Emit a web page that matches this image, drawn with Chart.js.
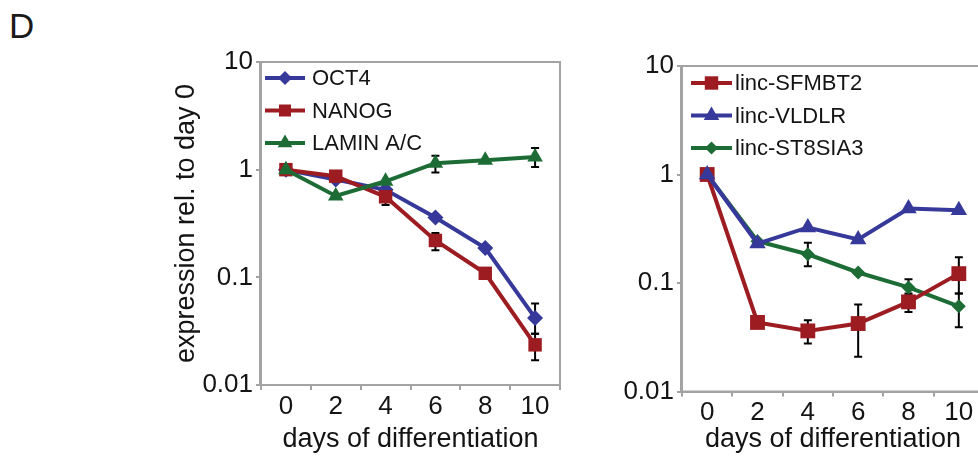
<!DOCTYPE html>
<html>
<head>
<meta charset="utf-8">
<script src="https://cdn.jsdelivr.net/npm/chart.js@4.4.1/dist/chart.umd.min.js"></script>
<style>
  html, body { margin: 0; padding: 0; background: #fff; overflow: hidden; width: 978px; height: 456px; }
  .panel { position: absolute; top: 0; }
  #letter { position: absolute; left: 9px; top: 8px; font: 35px/35px "Liberation Sans", Arial, sans-serif; color: #1a1a1a; }
</style>
</head>
<body>
<div id="letter">D</div>
<div class="panel" style="left:160px"><canvas id="left" width="420" height="456"></canvas></div>
<div class="panel" style="left:580px"><canvas id="right" width="420" height="456"></canvas></div>
<script>
// x categories and y ticks
const days = ['0', '2', '4', '6', '8', '10'];
const yTicks = [0.01, 0.1, 1, 10];

// left panel: pluripotency markers
const oct4 = [1.0, 0.81, 0.65, 0.36, 0.187, 0.042];
const nanog = [1.0, 0.87, 0.56, 0.22, 0.109, 0.0236];
const lamin = [1.0, 0.57, 0.78, 1.15, 1.22, 1.31];
const oct4Err = [null, null, null, null, null, [0.03, 0.057]];
const nanogErr = [null, null, [0.47, 0.63], [0.178, 0.258], null, [0.017, 0.03]];
const laminErr = [null, null, null, [0.94, 1.35], null, [1.06, 1.59]];

// right panel: lincRNAs
const sfmbt2 = [1.0, 0.0433, 0.0362, 0.0423, 0.067, 0.122];
const vldlr = [1.0, 0.231, 0.325, 0.252, 0.486, 0.469];
const st8sia3 = [1.0, 0.243, 0.184, 0.125, 0.091, 0.061];
const sfmbt2Err = [null, null, [0.0277, 0.0454], [0.0209, 0.0635], [0.054, 0.08], [0.08, 0.173]];
const st8sia3Err = [null, null, [0.143, 0.235], null, [0.077, 0.108], [0.039, 0.08]];

const BLUE = '#36399a';
const RED = '#9c1c21';
const GREEN = '#1d6c36';
const GRAY = '#a3a3a3';
const INK = '#141414';
const FONT = '"Liberation Sans", Arial, sans-serif';

function marker(ctx, style, x, y, r) {
  ctx.beginPath();
  if (style === 'rect') {
    const s = r * Math.SQRT1_2;
    ctx.rect(x - s, y - s, 2 * s, 2 * s);
  } else if (style === 'rectRot') {
    ctx.moveTo(x, y - r);
    ctx.lineTo(x + r, y);
    ctx.lineTo(x, y + r);
    ctx.lineTo(x - r, y);
    ctx.closePath();
  } else {
    const h = r * 1.5;
    const w = r * Math.sqrt(3) / 2;
    ctx.moveTo(x, y - r);
    ctx.lineTo(x + w, y - r + h);
    ctx.lineTo(x - w, y - r + h);
    ctx.closePath();
  }
  ctx.fill();
}

const errorBars = {
  id: 'errorBars',
  beforeDatasetsDraw(chart) {
    const ctx = chart.ctx;
    const yScale = chart.scales.y;
    ctx.save();
    ctx.strokeStyle = '#000';
    ctx.lineWidth = 2;
    chart.data.datasets.forEach((ds, di) => {
      if (!ds.errors) return;
      const meta = chart.getDatasetMeta(di);
      ds.errors.forEach((e, i) => {
        if (!e) return;
        const x = meta.data[i].x;
        const y1 = yScale.getPixelForValue(e[0]);
        const y2 = yScale.getPixelForValue(e[1]);
        ctx.beginPath();
        ctx.moveTo(x, y1); ctx.lineTo(x, y2);
        ctx.moveTo(x - 4, y1); ctx.lineTo(x + 4, y1);
        ctx.moveTo(x - 4, y2); ctx.lineTo(x + 4, y2);
        ctx.stroke();
      });
    });
    ctx.restore();
  }
};

const frameAndLegend = {
  id: 'frameAndLegend',
  afterDraw(chart, args, opts) {
    const ctx = chart.ctx;
    const a = chart.chartArea;
    ctx.save();
    ctx.strokeStyle = GRAY;
    ctx.lineWidth = 2;
    ctx.strokeRect(a.left - 1, a.top, a.right - a.left + 1, a.bottom - a.top);

    ctx.font = '22px ' + FONT;
    ctx.textBaseline = 'middle';
    chart.data.datasets.forEach((ds, i) => {
      const y = opts.y + i * opts.dy;
      ctx.strokeStyle = ds.borderColor;
      ctx.lineWidth = 4;
      ctx.beginPath();
      ctx.moveTo(opts.x, y);
      ctx.lineTo(opts.x + opts.len, y);
      ctx.stroke();
      ctx.fillStyle = ds.borderColor;
      marker(ctx, ds.pointStyle, opts.x + opts.len / 2, y, ds.legendRadius);
      ctx.fillStyle = INK;
      ctx.fillText(ds.label, opts.textX, y + 1);
    });
    ctx.restore();
  }
};

function makeSet(label, data, errors, color, style, radius, legendRadius, order) {
  return {
    label, data, errors, order,
    borderColor: color,
    backgroundColor: color,
    pointBackgroundColor: color,
    pointBorderColor: color,
    pointBorderWidth: 0,
    pointStyle: style,
    pointRadius: radius,
    pointHoverRadius: radius,
    legendRadius,
    borderWidth: 4,
    tension: 0,
    clip: false
  };
}

function makeChart(id, datasets, box, legend, yTitle) {
  return new Chart(document.getElementById(id), {
    type: 'line',
    data: { labels: days, datasets },
    plugins: [errorBars, frameAndLegend],
    options: {
      responsive: false,
      animation: false,
      layout: { padding: { top: box.top, right: box.right, left: 0, bottom: 0 } },
      plugins: {
        legend: { display: false },
        tooltip: { enabled: false },
        frameAndLegend: legend
      },
      scales: {
        x: {
          type: 'category',
          offset: true,
          grid: { offset: true, drawOnChartArea: false, tickLength: 5, color: GRAY, lineWidth: 2 },
          border: { color: GRAY, width: 2 },
          ticks: { color: INK, font: { family: FONT, size: 26 }, padding: 1, maxRotation: 0 },
          title: { display: true, text: 'days of differentiation', color: INK, font: { family: FONT, size: 27 }, padding: 0 },
          afterFit: (s) => { s.height = box.xHeight; }
        },
        y: {
          type: 'logarithmic',
          min: 0.01,
          max: 10,
          afterBuildTicks: (s) => { s.ticks = yTicks.map(v => ({ value: v })); },
          grid: { drawOnChartArea: false, tickLength: 5, color: GRAY, lineWidth: 2 },
          border: { color: GRAY, width: 2 },
          ticks: { color: INK, font: { family: FONT, size: 26 }, padding: 3, callback: (v) => String(v) },
          title: { display: !!yTitle, text: yTitle || '', color: INK, font: { family: FONT, size: 27 }, padding: { top: 10 } },
          afterFit: (s) => { s.width = box.yWidth; }
        }
      }
    }
  });
}

makeChart('left', [
  makeSet('OCT4', oct4, oct4Err, BLUE, 'rectRot', 8, 7, 2),
  makeSet('NANOG', nanog, nanogErr, RED, 'rect', 9.5, 8.5, 1),
  makeSet('LAMIN A/C', lamin, laminErr, GREEN, 'triangle', 9, 8.5, 0)
], { top: 62, right: 20, xHeight: 71, yWidth: 101 },
   { x: 105, len: 40, textX: 152, y: 78, dy: 32.5 },
   'expression rel. to day 0');

makeChart('right', [
  makeSet('linc-SFMBT2', sfmbt2, sfmbt2Err, RED, 'rect', 10.5, 9.5, 1),
  makeSet('linc-VLDLR', vldlr, null, BLUE, 'triangle', 9.5, 9, 0),
  makeSet('linc-ST8SIA3', st8sia3, st8sia3Err, GREEN, 'rectRot', 7, 6.5, 2)
], { top: 66, right: 16, xHeight: 64.5, yWidth: 102 },
   { x: 111, len: 41, textX: 155, y: 83, dy: 32.5 },
   null);
</script>
</body>
</html>
